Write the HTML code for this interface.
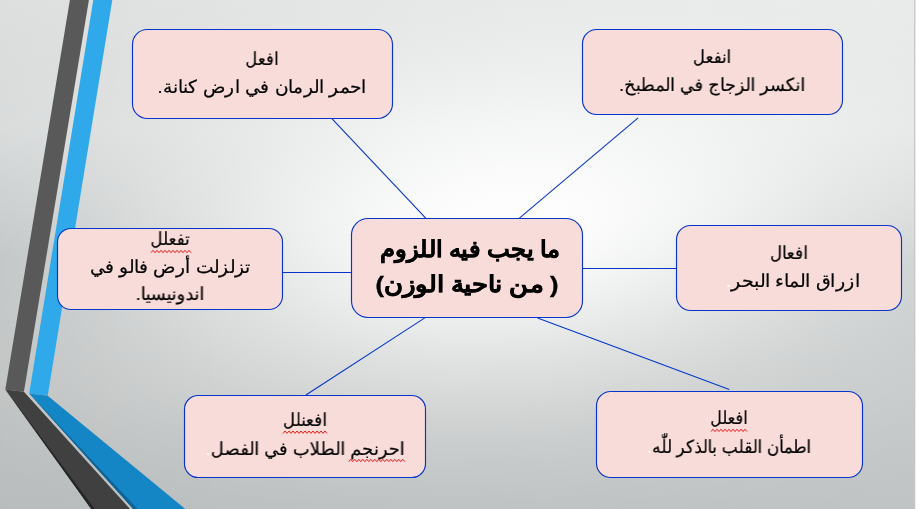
<!DOCTYPE html>
<html lang="ar">
<head>
<meta charset="utf-8">
<title>ما يجب فيه اللزوم</title>
<style>
html,body{margin:0;padding:0;}
body{width:916px;height:509px;overflow:hidden;position:relative;
  font-family:"Liberation Sans",sans-serif;color:#000;
  background:#c6c9c9;}
#bg{position:absolute;left:0;top:0;width:916px;height:509px;overflow:hidden;
  background:linear-gradient(to right,rgba(0,0,0,0.0423),rgba(0,0,0,0)),
  linear-gradient(to bottom,rgb(231,232,232) 0px,rgb(223,226,226) 130px,rgb(194,198,198) 260px,rgb(197,200,200) 390px,rgb(191,195,195) 509px);}
#hl{position:absolute;left:-300px;top:-300px;width:1516px;height:1109px;transform-origin:811.6px 521.3px;transform:rotate(-5.21deg);
  background:radial-gradient(ellipse 268px 122px at 811.6px 521.3px,rgba(255,255,255,0.978) 0%,rgba(255,255,255,0.959) 20%,rgba(255,255,255,0.903) 40%,rgba(255,255,255,0.817) 60%,rgba(255,255,255,0.710) 80%,rgba(255,255,255,0.593) 100%,rgba(255,255,255,0.476) 120%,rgba(255,255,255,0.367) 140%,rgba(255,255,255,0.272) 160%,rgba(255,255,255,0.194) 180%,rgba(255,255,255,0.132) 200%,rgba(255,255,255,0.069) 230%,rgba(255,255,255,0.033) 260%,rgba(255,255,255,0.011) 300%,rgba(255,255,255,0.002) 350%);}
svg.art{position:absolute;left:0;top:0;width:916px;height:509px;}
.box{position:absolute;
  direction:rtl;font-size:17.6px;line-height:28px;}
.box .t{position:absolute;white-space:nowrap;transform-origin:50% 50%;will-change:transform;-webkit-text-stroke:0.2px #000;}
.box .t .w{-webkit-text-stroke:0.2px #fff;}
#c .t{-webkit-text-stroke:0.4px #000;}
.sq{text-decoration:none;}
.w{color:#fff;}
#c{font-weight:bold;font-size:22.6px;line-height:36px;}
</style>
</head>
<body>
<div id="bg"><div id="hl"></div></div>
<svg class="art" viewBox="0 0 916 509">
  <!-- gray stripe -->
  <polygon points="69.9,0 88.9,0 23.9,391.8 5.3,389.6" fill="#595959"/>
  <polygon points="5.3,389.6 23.9,391.8 130,509 91.2,509" fill="#404040"/>
  <polygon points="5.3,389.6 94.9,509 91.2,509" fill="#262626"/>
  <!-- blue stripe -->
  <polygon points="93.3,0 112.3,0 47.7,395.8 29.2,393.4" fill="#2fa9ea"/>
  <polygon points="29.2,393.4 47.7,395.8 185.3,509 133.2,509" fill="#1485c5"/>
  <polygon points="29.2,393.4 137.6,509 133.2,509" fill="#0e6294"/>
  <!-- connectors -->
  <g stroke="#0735cc" stroke-width="1.1" fill="none">
    <line x1="331.9" y1="118.7" x2="425.7" y2="218.2"/>
    <line x1="638.1" y1="117.8" x2="519.4" y2="218.2"/>
    <line x1="282.5" y1="272.5" x2="351.5" y2="272.5"/>
    <line x1="582.5" y1="268.5" x2="677.3" y2="268.5"/>
    <line x1="425.2" y1="317.6" x2="305.9" y2="395"/>
    <line x1="537.6" y1="318" x2="729.3" y2="389.6"/>
  </g>
</svg>

<svg class="art" viewBox="0 0 916 509">
  <g fill="#f8dcd9" stroke="#0735cc" stroke-width="1.15">
    <rect x="132.50" y="29.50" width="260.00" height="89.00" rx="14.8" ry="14.8"/>
    <rect x="582.50" y="29.50" width="260.00" height="85.00" rx="14.2" ry="14.2"/>
    <rect x="57.50" y="228.50" width="225.00" height="81.00" rx="13.5" ry="13.5"/>
    <rect x="351.50" y="218.50" width="231.00" height="99.00" rx="16.5" ry="16.5"/>
    <rect x="676.50" y="225.50" width="225.00" height="85.00" rx="14.2" ry="14.2"/>
    <rect x="184.50" y="395.50" width="241.00" height="82.00" rx="13.7" ry="13.7"/>
    <rect x="596.50" y="391.50" width="266.00" height="86.00" rx="14.3" ry="14.3"/>
  </g>
</svg>
<div class="box" id="b1" style="left:132.5px;top:29.5px;width:260.0px;height:89.0px;">
  <div class="t" style="left:129.4px;top:15.0px;transform:translateX(-50%) scaleX(0.8980);">افعل</div>
  <div class="t" style="left:129.6px;top:43.5px;transform:translateX(-50%) scaleX(1.0327);">احمر الرمان في ارض كنانة.</div>
</div>

<div class="box" id="b2" style="left:582.5px;top:29.5px;width:260.0px;height:85.0px;">
  <div class="t" style="left:129.5px;top:13.6px;transform:translateX(-50%) scaleX(0.9102);">انفعل</div>
  <div class="t" style="left:129.2px;top:41.0px;transform:translateX(-50%) scaleX(0.9796);">انكسر الزجاج في المطبخ.</div>
</div>

<div class="box" id="b3" style="left:57.5px;top:228.5px;width:225.0px;height:81.0px;">
  <div class="t" style="left:112.4px;top:-3.8px;transform:translateX(-50%) scaleX(0.9098);"><span class="sq">تفعلل</span></div>
  <div class="t" style="left:112.7px;top:24.4px;transform:translateX(-50%) scaleX(1.0331);">تزلزلت أرض فالو في</div>
  <div class="t" style="left:112.7px;top:51.8px;transform:translateX(-50%) scaleX(0.9946);">اندونيسيا.</div>
</div>

<div class="box" id="c" style="left:351.5px;top:218.5px;width:231.0px;height:99.0px;">
  <div class="t" style="left:118.7px;top:13.4px;transform:translateX(-50%) scaleX(1.0508);">ما يجب فيه اللزوم</div>
  <div class="t" style="left:115.5px;top:48.5px;transform:translateX(-50%) scaleX(1.1236);">( من ناحية الوزن)</div>
</div>

<div class="box" id="b4" style="left:676.5px;top:225.5px;width:225.0px;height:85.0px;">
  <div class="t" style="left:112.5px;top:13.6px;transform:translateX(-50%) scaleX(0.9299);">افعال</div>
  <div class="t" style="left:116.5px;top:41.5px;transform:translateX(-50%) scaleX(1.0594);">ازراق الماء البحر<span class="w">.</span></div>
</div>

<div class="box" id="b5" style="left:184.5px;top:395.5px;width:241.0px;height:82.0px;">
  <div class="t" style="left:120.3px;top:10.6px;transform:translateX(-50%) scaleX(0.9196);"><span class="sq">افعنلل</span></div>
  <div class="t" style="left:120.9px;top:39.0px;transform:translateX(-50%) scaleX(0.9893);"><span class="sq">احرنجم</span> الطلاب في الفصل<span class="w">.</span></div>
</div>

<div class="box" id="b6" style="left:596.5px;top:391.5px;width:266.0px;height:86.0px;">
  <div class="t" style="left:132.5px;top:12.6px;transform:translateX(-50%) scaleX(0.8722);"><span class="sq">افعلل</span></div>
  <div class="t" style="left:132.4px;top:41.0px;transform:translateX(-50%) scaleX(0.9418);">اطمأن القلب بالذكر للّٰه<span class="w">.</span></div>
</div>

<svg class="art" viewBox="0 0 916 509">
  <g fill="none" stroke="#f01818" stroke-width="1" stroke-linejoin="miter">
    <polyline points="151.0,252.7 153.0,250.3 155.0,252.7 157.0,250.3 159.0,252.7 161.0,250.3 163.0,252.7 165.0,250.3 167.0,252.7 169.0,250.3 171.0,252.7 173.0,250.3 175.0,252.7 177.0,250.3 179.0,252.7 181.0,250.3 183.0,252.7 185.0,250.3 187.0,252.7 189.0,250.3 191.0,252.7"/>
    <polyline points="283.0,433.4 285.0,431.0 287.0,433.4 289.0,431.0 291.0,433.4 293.0,431.0 295.0,433.4 297.0,431.0 299.0,433.4 301.0,431.0 303.0,433.4 305.0,431.0 307.0,433.4 309.0,431.0 311.0,433.4 313.0,431.0 315.0,433.4 317.0,431.0 319.0,433.4 321.0,431.0 323.0,433.4 325.0,431.0 327.0,433.4"/>
    <polyline points="348.8,461.7 350.8,459.3 352.8,461.7 354.8,459.3 356.8,461.7 358.8,459.3 360.8,461.7 362.8,459.3 364.8,461.7 366.8,459.3 368.8,461.7 370.8,459.3 372.8,461.7 374.8,459.3 376.8,461.7 378.8,459.3 380.8,461.7 382.8,459.3 384.8,461.7 386.8,459.3 388.8,461.7 390.8,459.3 392.8,461.7 394.8,459.3 396.8,461.7 398.8,459.3 400.8,461.7 402.8,459.3 404.8,461.7"/>
    <polyline points="711.0,431.6 713.0,429.2 715.0,431.6 717.0,429.2 719.0,431.6 721.0,429.2 723.0,431.6 725.0,429.2 727.0,431.6 729.0,429.2 731.0,431.6 733.0,429.2 735.0,431.6 737.0,429.2 739.0,431.6 741.0,429.2 743.0,431.6 745.0,429.2 747.0,431.6"/>
  </g>
  <rect x="914" y="0" width="1" height="509" fill="#c9c9c9"/>
  <rect x="915" y="0" width="1" height="509" fill="#e9e9e9"/>
</svg>
</body>
</html>
